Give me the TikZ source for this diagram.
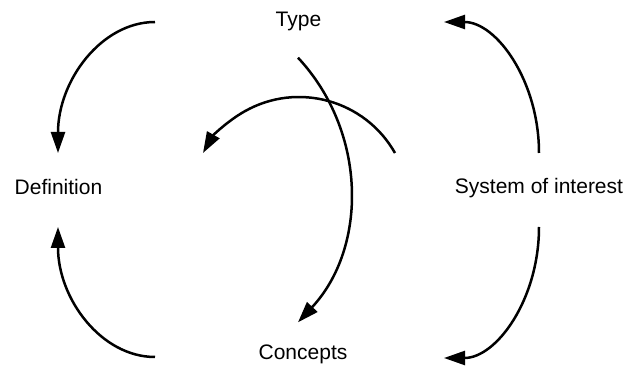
\documentclass[tikz,border=0pt]{standalone}
\usepackage{fontspec}
\setmainfont{Liberation Sans}
\usetikzlibrary{arrows.meta}
\begin{document}
\begin{tikzpicture}[x=1pt,y=1pt,
  lbl/.style={font=\fontsize{21}{25}\selectfont, anchor=base, inner sep=0pt},
  conn/.style={line width=2.5pt, -{Triangle[length=21pt,width=14pt]}}]
\useasboundingbox (0,0) rectangle (625,367);

% labels
\node[lbl] (type) at (298.5,340) {Type};
\node[lbl] (def)  at (58.5,172.7) {Definition};
\node[lbl] (soi)  at (539,173) {System of interest};
\node[lbl] (con)  at (303,7) {Concepts};

% free ends of the curved connectors
\coordinate (tlS) at (155,345);  \coordinate (tlE) at (58,214);
\coordinate (blS) at (155,10);   \coordinate (blE) at (58,140);
\coordinate (trS) at (539,214);  \coordinate (trE) at (444,345);
\coordinate (brS) at (539,140);  \coordinate (brE) at (444,9);
\coordinate (tcS) at (298,309.3);
\coordinate (rcS) at (395,214);

% outer arcs
\draw[conn] (tlS) .. controls (101.4,345) and (58,286.4) .. (tlE);
\draw[conn] (blS) .. controls (101.4,10) and (58,68) .. (blE);
\draw[conn] (trS) .. controls (539,286) and (496.5,345) .. (trE);
\draw[conn] (brS) .. controls (539,67.6) and (496.5,9) .. (brE);

% inner arcs
\draw[conn] (tcS) arc[start angle=43, end angle=-43, radius=194];
\draw[conn] (rcS) arc[start angle=29.5, end angle=150.5, radius=110.3];
\end{tikzpicture}
\end{document}
